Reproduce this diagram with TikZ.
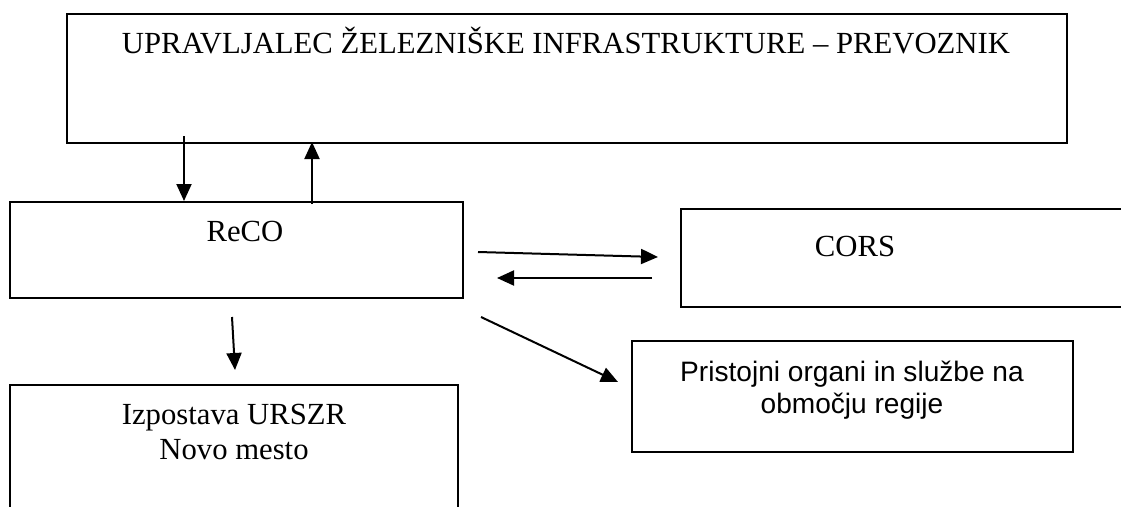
\documentclass[tikz,border=0pt]{standalone}
\usepackage{fontspec}
\setmainfont{Liberation Serif}
\newfontfamily\arialfont{Liberation Sans}
\usetikzlibrary{arrows.meta}
\begin{document}
\begin{tikzpicture}[x=1pt,y=-1pt,
  boxnode/.style={draw=black, line width=2pt, rectangle, inner sep=0pt, anchor=north west},
  txt/.style={inner sep=0pt, font=\fontsize{30.7}{35.3}\selectfont},
  sanstxt/.style={inner sep=0pt, align=center, font=\arialfont\fontsize{28.1}{32.3}\selectfont},
  arr/.style={line width=2pt, -{Triangle[length=17pt,width=15pt]}}]
\useasboundingbox (0,0) rectangle (1121,506);
\clip (0,0) rectangle (1121,506);
\fill[white] (0,0) rectangle (1121,506);
% boxes
\node[boxnode, minimum width=1000pt, minimum height=129pt] (top) at (66,13) {};
\node[boxnode, minimum width=453pt, minimum height=96pt] (reco) at (9,201) {};
\node[boxnode, minimum width=470pt, minimum height=98pt] (cors) at (680,208) {};
\node[boxnode, minimum width=441pt, minimum height=111pt] (prist) at (631,340) {};
\node[boxnode, minimum width=448pt, minimum height=150pt] (izp) at (9,384) {};
% texts
\node[txt, anchor=base] (toptxt) at (566,53) {UPRAVLJALEC ŽELEZNIŠKE INFRASTRUKTURE – PREVOZNIK};
\node[txt, anchor=base] (recotxt) at (245,241) {ReCO};
\node[txt, anchor=base] (corstxt) at (855,256) {CORS};
\node[txt, anchor=base] (izp1) at (234,424) {Izpostava URSZR};
\node[txt, anchor=base] (izp2) at (234,459) {Novo mesto};
\node[sanstxt, anchor=base] (pr1) at (852,381) {Pristojni organi in službe na};
\node[sanstxt, anchor=base] (pr2) at (852,413) {območju regije};
% connector end points
\coordinate (a1s) at (184,136); \coordinate (a1e) at (184,201);
\coordinate (a2s) at (312,204); \coordinate (a2e) at (312,142);
\coordinate (a3s) at (478,252); \coordinate (a3e) at (658,257);
\coordinate (a4s) at (652,278); \coordinate (a4e) at (497,278);
\coordinate (a5s) at (481,317); \coordinate (a5e) at (618,382);
\coordinate (a6s) at (232,317); \coordinate (a6e) at (235,370);
% connectors
\draw[arr] (a1s) -- (a1e);
\draw[arr] (a2s) -- (a2e);
\draw[arr] (a3s) -- (a3e);
\draw[arr] (a4s) -- (a4e);
\draw[arr] (a5s) -- (a5e);
\draw[arr] (a6s) -- (a6e);
\end{tikzpicture}
\end{document}
